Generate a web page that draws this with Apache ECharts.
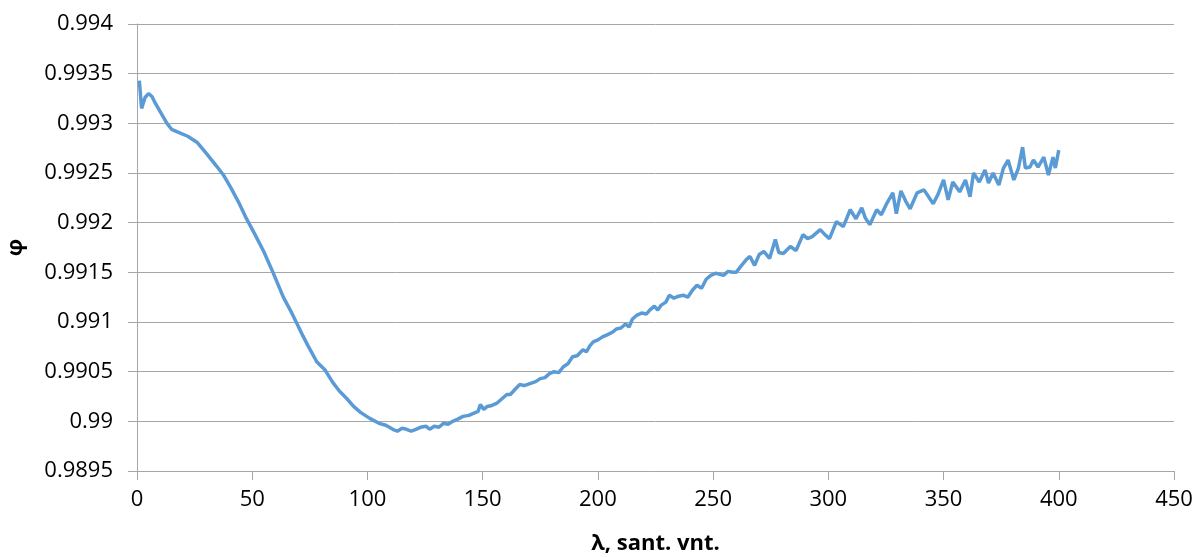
<!DOCTYPE html>
<html>
<head>
<meta charset="utf-8">
<title>φ(λ)</title>
<script src="https://cdn.jsdelivr.net/npm/echarts@6/dist/echarts.min.js"></script>
<style>
  html, body { margin: 0; padding: 0; background: #fff; }
  #chart { width: 1199px; height: 557px; }
</style>
</head>
<body>
<div id="chart"></div>
<script>
// λ (sant. vnt.) sample positions
const lambda = [
  1, 2, 3.5, 5, 6.5, 8, 10.5, 13, 15, 18, 22, 26, 30, 34.5, 37.5, 41, 44, 47.5, 51, 55,
  59, 63.5, 66.5, 69.5, 72, 74, 78, 81.5, 85, 88, 91, 94, 97, 101, 105, 108, 111, 113, 115, 117,
  119, 121, 123, 125.5, 127, 129, 131, 133, 135, 137, 139, 141.5, 144, 146, 148, 149, 150.5, 152, 154, 156,
  158, 160.5, 162, 164, 166, 168, 170.5, 173, 175, 177, 179, 181, 183, 185, 187, 189, 191, 193.5, 195, 196.5,
  198, 200, 202, 204, 206.5, 208, 210, 212, 213.5, 215, 217, 219, 221, 222.5, 224.5, 226, 227.5, 229.5, 231, 233,
  235, 237, 239, 241, 243, 245, 247, 249, 251, 253, 254.5, 256.5, 258.5, 260, 262, 264.5, 266, 268, 270, 272,
  274.5, 277, 278.5, 280.5, 283.5, 286, 289, 291, 293, 296.5, 298.5, 300.5, 303.5, 306.5, 309.5, 312, 314.5, 316, 318, 321,
  323, 325.5, 328, 329.5, 331.5, 333.5, 335.5, 338.5, 341.5, 343.5, 345.5, 347.5, 350, 352, 354, 357, 359.5, 361.5, 363, 365.5,
  368, 369.5, 371.5, 374, 376, 378, 380.5, 382.5, 384.3, 385.5, 387.5, 389, 391, 393.5, 395.5, 397.5, 398.5, 400
];

// φ values at each λ
const phi = [
  0.99343, 0.99315, 0.99326, 0.99330, 0.99327, 0.99320, 0.99310, 0.99300, 0.99294, 0.99291,
  0.99287, 0.99281, 0.99270, 0.99257, 0.99248, 0.99234, 0.99221, 0.99204, 0.99189, 0.99171,
  0.99150, 0.99125, 0.99112, 0.99098, 0.99086, 0.99077, 0.99060, 0.99052, 0.99039, 0.99030,
  0.99023, 0.99015, 0.99009, 0.99003, 0.98998, 0.98996, 0.98992, 0.98990, 0.98993, 0.98992,
  0.98990, 0.98992, 0.98994, 0.98995, 0.98992, 0.98995, 0.98994, 0.98998, 0.98997, 0.99000,
  0.99002, 0.99005, 0.99006, 0.99008, 0.99010, 0.99017, 0.99012, 0.99015, 0.99016, 0.99018,
  0.99022, 0.99027, 0.99027, 0.99032, 0.99037, 0.99036, 0.99038, 0.99040, 0.99043, 0.99044,
  0.99048, 0.99050, 0.99049, 0.99055, 0.99058, 0.99065, 0.99066, 0.99072, 0.99070, 0.99076,
  0.99080, 0.99082, 0.99085, 0.99087, 0.99090, 0.99093, 0.99094, 0.99098, 0.99095, 0.99103,
  0.99107, 0.99109, 0.99108, 0.99112, 0.99116, 0.99112, 0.99117, 0.99120, 0.99127, 0.99124,
  0.99126, 0.99127, 0.99125, 0.99132, 0.99137, 0.99134, 0.99143, 0.99147, 0.99149, 0.99148,
  0.99147, 0.99151, 0.99150, 0.99150, 0.99156, 0.99163, 0.99166, 0.99157, 0.99168, 0.99171,
  0.99164, 0.99183, 0.99170, 0.99169, 0.99176, 0.99172, 0.99188, 0.99184, 0.99186, 0.99193,
  0.99188, 0.99184, 0.99201, 0.99196, 0.99213, 0.99204, 0.99215, 0.99205, 0.99198, 0.99213,
  0.99208, 0.99220, 0.99230, 0.99209, 0.99232, 0.99222, 0.99214, 0.99230, 0.99233, 0.99226,
  0.99219, 0.99228, 0.99243, 0.99223, 0.99241, 0.99231, 0.99243, 0.99226, 0.99250, 0.99241,
  0.99253, 0.99240, 0.99250, 0.99238, 0.99255, 0.99263, 0.99243, 0.99255, 0.99276, 0.99255,
  0.99256, 0.99263, 0.99256, 0.99266, 0.99248, 0.99266, 0.99255, 0.99273
];

// axis ranges and tick steps
const xAxisRange = [0, 450, 50];
const yAxisRange = [0.9895, 0.994, 0.0005];

const points = lambda.map((l, i) => [l, phi[i]]);

const FONT = '"Open Sans", "Noto Sans", sans-serif';
const GRID_GRAY = '#a6a6a6';

const chart = echarts.init(document.getElementById('chart'), null, { renderer: 'canvas' });
chart.setOption({
  animation: false,
  backgroundColor: '#ffffff',
  grid: { left: 137, right: 25, top: 24, bottom: 86, containLabel: false, outerBoundsMode: 'none' },
  xAxis: {
    type: 'value',
    min: xAxisRange[0],
    max: xAxisRange[1],
    interval: xAxisRange[2],
    name: 'λ, sant. vnt.',
    nameLocation: 'middle',
    nameGap: 62,
    nameTextStyle: { fontFamily: FONT, fontSize: 22, fontWeight: 'bold', color: '#000' },
    axisLine: { show: true, lineStyle: { color: GRID_GRAY, width: 1 } },
    axisTick: { show: true, inside: false, length: 9, lineStyle: { color: GRID_GRAY } },
    axisLabel: { fontFamily: FONT, fontSize: 22, color: '#000', margin: 18 },
    splitLine: { show: false }
  },
  yAxis: {
    type: 'value',
    min: yAxisRange[0],
    max: yAxisRange[1],
    interval: yAxisRange[2],
    name: 'φ',
    nameLocation: 'middle',
    nameGap: 110,
    nameRotate: 90,
    nameTextStyle: { fontFamily: FONT, fontSize: 22, fontWeight: 'bold', color: '#000' },
    axisLine: { show: true, lineStyle: { color: GRID_GRAY, width: 1 } },
    axisTick: { show: true, inside: false, length: 9, lineStyle: { color: GRID_GRAY } },
    axisLabel: {
      fontFamily: FONT, fontSize: 22, color: '#000', margin: 24,
      formatter: v => String(+v.toFixed(4))
    },
    splitLine: { show: true, lineStyle: { color: GRID_GRAY, width: 1 } }
  },
  series: [{
    type: 'line',
    data: points,
    showSymbol: false,
    symbol: 'none',
    smooth: false,
    lineStyle: { color: '#5b9bd5', width: 3.5 },
    itemStyle: { color: '#5b9bd5' }
  }]
});
</script>
</body>
</html>
